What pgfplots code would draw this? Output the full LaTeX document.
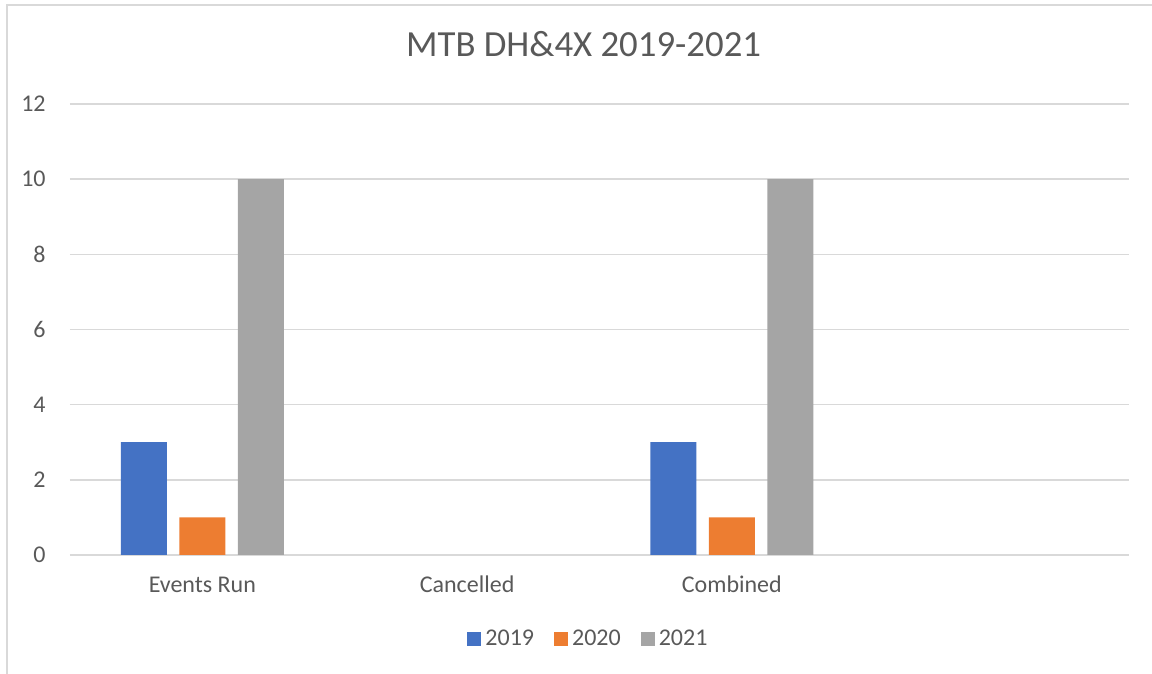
\documentclass[border=0pt]{standalone}
\usepackage{fontspec}
\setmainfont{Carlito}
\usepackage{pgfplots}
\pgfplotsset{compat=1.18}
\definecolor{c2019}{HTML}{4472C4}
\definecolor{c2020}{HTML}{ED7D31}
\definecolor{c2021}{HTML}{A5A5A5}
\definecolor{txt}{HTML}{595959}
\definecolor{gridc}{HTML}{D9D9D9}

\begin{document}
\begin{tikzpicture}
\path[use as bounding box] (0,0) rectangle (576pt,337pt);
\draw[gridc, line width=1pt] (3.5pt,0) -- (3.5pt,334.5pt) -- (576pt,334.5pt);
\begin{axis}[
    at={(35pt,59.5pt)}, anchor=south west,
    scale only axis, width=529.5pt, height=225.5pt,
    ybar=6.3pt, bar width=23pt,
    xmin=-0.5, xmax=3.5, ymin=0, ymax=12,
    xtick={0,1,2,3},
    xticklabels={Events Run,Cancelled,Combined,{}},
    ytick={0,2,...,12},
    ymajorgrids,
    major grid style={gridc, line width=0.8pt},
    axis x line=bottom, axis y line=left,
    x axis line style={-, draw=gridc, line width=0.8pt},
    y axis line style={draw=none},
    major tick length=0pt,
    tick style={draw=none},
    /pgf/number format/assume math mode=true,
    tick label style={font=\fontsize{12}{14}\selectfont, text=txt, inner sep=0pt},
    xticklabel style={anchor=base, yshift=-19pt},
    yticklabel style={anchor=east, xshift=-12pt},
    title={MTB DH\&4X 2019-2021},
    every axis title shift=0pt,
    title style={at={(axis description cs:0.485,1.105)}, anchor=base,
        font=\fontsize{18.4}{21}\selectfont, text=txt, inner sep=0pt},
    legend style={at={(axis description cs:0.4905,-0.186)}, anchor=center,
        draw=none, fill=none, legend columns=3,
        font=\fontsize{12}{14}\selectfont, text=txt,
        /tikz/every even column/.append style={column sep=8pt}},
    legend cell align=left,
    legend image code/.code={\fill[#1] (0pt,-3.5pt) rectangle (7pt,3.5pt);},
]
% Cancelled = 0 for every year: no bar is drawn there
\addplot[fill=c2019, draw=none] coordinates {(0,3) (2,3)};
\addplot[fill=c2020, draw=none] coordinates {(0,1) (2,1)};
\addplot[fill=c2021, draw=none] coordinates {(0,10) (2,10)};
\legend{2019,2020,2021}
\end{axis}
\end{tikzpicture}
\end{document}
